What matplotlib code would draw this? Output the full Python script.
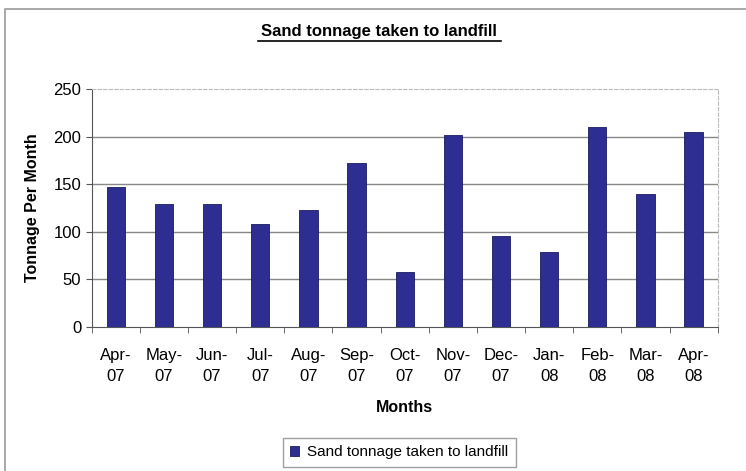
import numpy as np
import matplotlib.pyplot as plt

months = ["Apr-\n07", "May-\n07", "Jun-\n07", "Jul-\n07", "Aug-\n07", "Sep-\n07", "Oct-\n07",
          "Nov-\n07", "Dec-\n07", "Jan-\n08", "Feb-\n08", "Mar-\n08", "Apr-\n08"]
tonnage = [147, 129, 129, 108, 123, 172, 58, 202, 96, 79, 210, 140, 205]
yticks = [0, 50, 100, 150, 200, 250]

plt.rcParams['font.family'] = ['Liberation Sans', 'DejaVu Sans']

fig = plt.figure(figsize=(7.46, 4.71), dpi=100)
ax = fig.add_axes([0.123, 0.306, 0.839, 0.505])

# outer frame of the chart
frame = plt.Rectangle((0.007, -0.01), 1.2, 0.99, transform=fig.transFigure,
                      fill=False, edgecolor="#999999", lw=1.2)
fig.patches.append(frame)

x = np.arange(len(months))
ax.bar(x, tonnage, width=0.38, color="#2E2E92", edgecolor="#1a1a60", lw=0.6,
       label="Sand tonnage taken to landfill", zorder=3)

ax.set_xlim(-0.5, len(months) - 0.5)
ax.set_ylim(0, 250)
ax.set_yticks(yticks)
ax.tick_params(axis="y", labelsize=12, length=4, direction="out", color="#555555")
ax.set_xticks(x)
ax.set_xticklabels(months, fontsize=12, linespacing=1.55)
ax.tick_params(axis="x", length=0, pad=15)
ax.set_xticks(np.arange(len(months) + 1) - 0.5, minor=True)
ax.tick_params(axis="x", which="minor", length=4, color="#555555")

for v in yticks[1:-1]:
    ax.axhline(v, color="#888888", lw=1, zorder=1)

ax.spines["top"].set_linestyle((0, (3, 2)))
ax.spines["top"].set_color("#bbbbbb")
ax.spines["right"].set_linestyle((0, (3, 2)))
ax.spines["right"].set_color("#bbbbbb")
ax.spines["left"].set_color("#555555")
ax.spines["bottom"].set_color("#555555")

ax.set_ylabel("Tonnage Per Month", fontsize=11.5, fontweight="bold", labelpad=10)
ax.set_xlabel("Months", fontsize=11.5, fontweight="bold", labelpad=11)

fig.text(0.508, 0.934, "Sand tonnage taken to landfill", ha="center", va="center",
         fontsize=12, fontweight="bold")
fig.add_artist(plt.Line2D([0.346, 0.671], [0.912, 0.912], color="black", lw=1.2))

fig.legend(loc="center", bbox_to_anchor=(0.535, 0.04), fontsize=11, frameon=True,
           fancybox=False, edgecolor="#888888", handlelength=0.6, handleheight=0.6,
           handletextpad=0.5, borderpad=0.5)

fig.savefig("out.png", dpi=100)
